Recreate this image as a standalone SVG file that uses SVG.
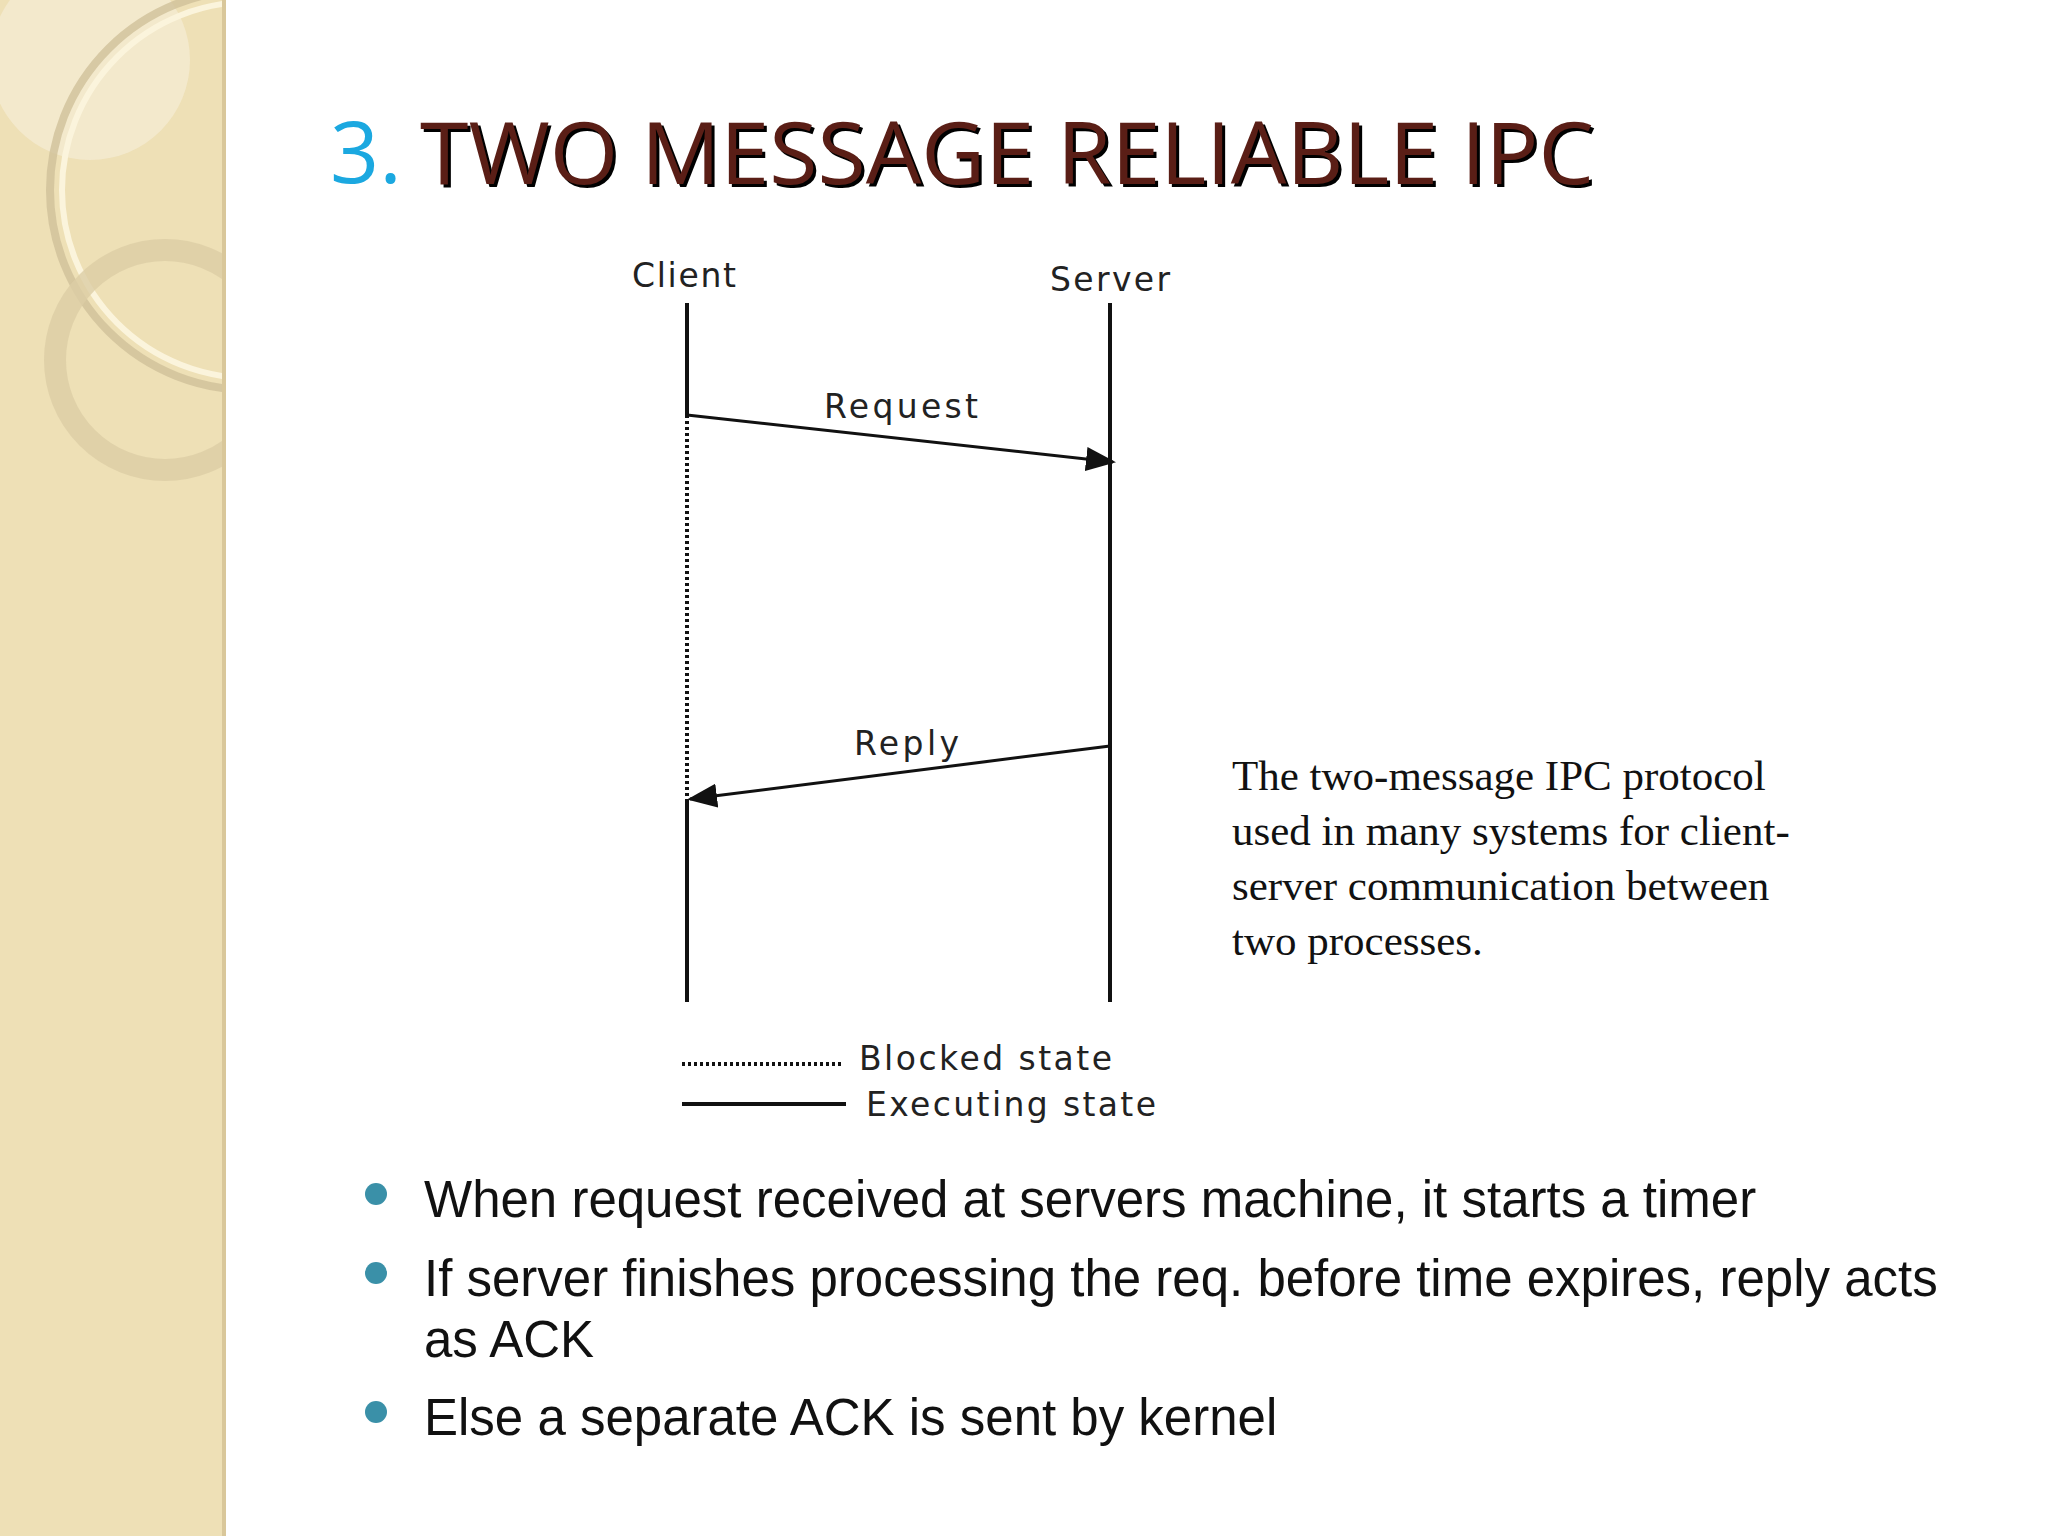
<svg xmlns="http://www.w3.org/2000/svg" width="2048" height="1536" viewBox="0 0 2048 1536">
<style>
.lbl{font-family:"DejaVu Sans",Verdana,sans-serif;font-size:33px;fill:#222}
.side{font-family:"Liberation Serif","Times New Roman",serif;font-size:43px;fill:#111}
.bul{font-family:"Liberation Sans",Arial,sans-serif;font-size:51px;fill:#111}
.ln{stroke:#111;stroke-width:4;fill:none}
.dot{stroke:#111;stroke-width:4;stroke-dasharray:3 3;fill:none}
</style>
<defs>
<marker id="ah" markerWidth="10" markerHeight="8" refX="9" refY="4" orient="auto" markerUnits="strokeWidth"><path d="M0,0 L10,4 L0,8 Z" fill="#111"/></marker>
<clipPath id="sb"><rect x="0" y="0" width="222" height="1536"/></clipPath>
</defs>
<rect width="2048" height="1536" fill="#fff"/>
<g id="sidebar">
<rect x="0" y="0" width="226" height="1536" fill="#EEE0B6"/>
<g clip-path="url(#sb)">
<circle cx="90" cy="60" r="100" fill="#F6EEDA" opacity="0.6"/>
<circle cx="250" cy="190" r="200" fill="none" stroke="#CFC09A" stroke-width="8" opacity="0.8"/>
<circle cx="250" cy="190" r="188" fill="none" stroke="#FBF4DC" stroke-width="6"/>
<circle cx="165" cy="360" r="110" fill="none" stroke="#DCCDA5" stroke-width="22" opacity="0.8"/>
</g>
<rect x="222" y="0" width="4" height="1536" fill="#D9C79A"/>
</g>
<g id="title" font-family="'Open Sans','DejaVu Sans',sans-serif" font-size="86">
<text x="330" y="183" fill="#1BA8E0">3.</text>
<text x="423" y="187" fill="#000" textLength="1174" lengthAdjust="spacingAndGlyphs">TWO MESSAGE RELIABLE IPC</text>
<text x="420" y="184" fill="#5A1E16" textLength="1174" lengthAdjust="spacingAndGlyphs">TWO MESSAGE RELIABLE IPC</text>
</g>
<g id="client"><text class="lbl" x="632" y="287" textLength="104">Client</text></g>
<g id="server"><text class="lbl" x="1050" y="291" textLength="120">Server</text></g>
<g id="connectors">
<line class="ln" x1="687" y1="303" x2="687" y2="415"/>
<line class="dot" x1="687" y1="415" x2="687" y2="799"/>
<line class="ln" x1="687" y1="799" x2="687" y2="1002"/>
<line class="ln" x1="1110" y1="303" x2="1110" y2="1002"/>
<line stroke="#111" stroke-width="3" x1="687" y1="415" x2="1113" y2="462" marker-end="url(#ah)"/>
<line stroke="#111" stroke-width="3" x1="1110" y1="746" x2="690" y2="799" marker-end="url(#ah)"/>
</g>
<text class="lbl" x="824" y="418" textLength="154">Request</text>
<text class="lbl" x="854" y="755" textLength="105">Reply</text>
<g id="legend">
<line class="dot" x1="682" y1="1064" x2="842" y2="1064"/>
<text class="lbl" x="859" y="1070" textLength="253">Blocked state</text>
<line class="ln" x1="682" y1="1104" x2="846" y2="1104"/>
<text class="lbl" x="866" y="1116" textLength="290">Executing state</text>
</g>
<g id="caption">
<text class="side" x="1232" y="790">The two-message IPC protocol</text>
<text class="side" x="1232" y="845">used in many systems for client-</text>
<text class="side" x="1232" y="900">server communication between</text>
<text class="side" x="1232" y="955">two processes.</text>
</g>
<g id="bullets">
<circle cx="376" cy="1194" r="11" fill="#3A90A8"/>
<circle cx="376" cy="1273" r="11" fill="#3A90A8"/>
<circle cx="376" cy="1412" r="11" fill="#3A90A8"/>
<text class="bul" x="424" y="1217">When request received at servers machine, it starts a timer</text>
<text class="bul" x="424" y="1296">If server finishes processing the req. before time expires, reply acts</text>
<text class="bul" x="424" y="1357">as ACK</text>
<text class="bul" x="424" y="1435">Else a separate ACK is sent by kernel</text>
</g>
</svg>
